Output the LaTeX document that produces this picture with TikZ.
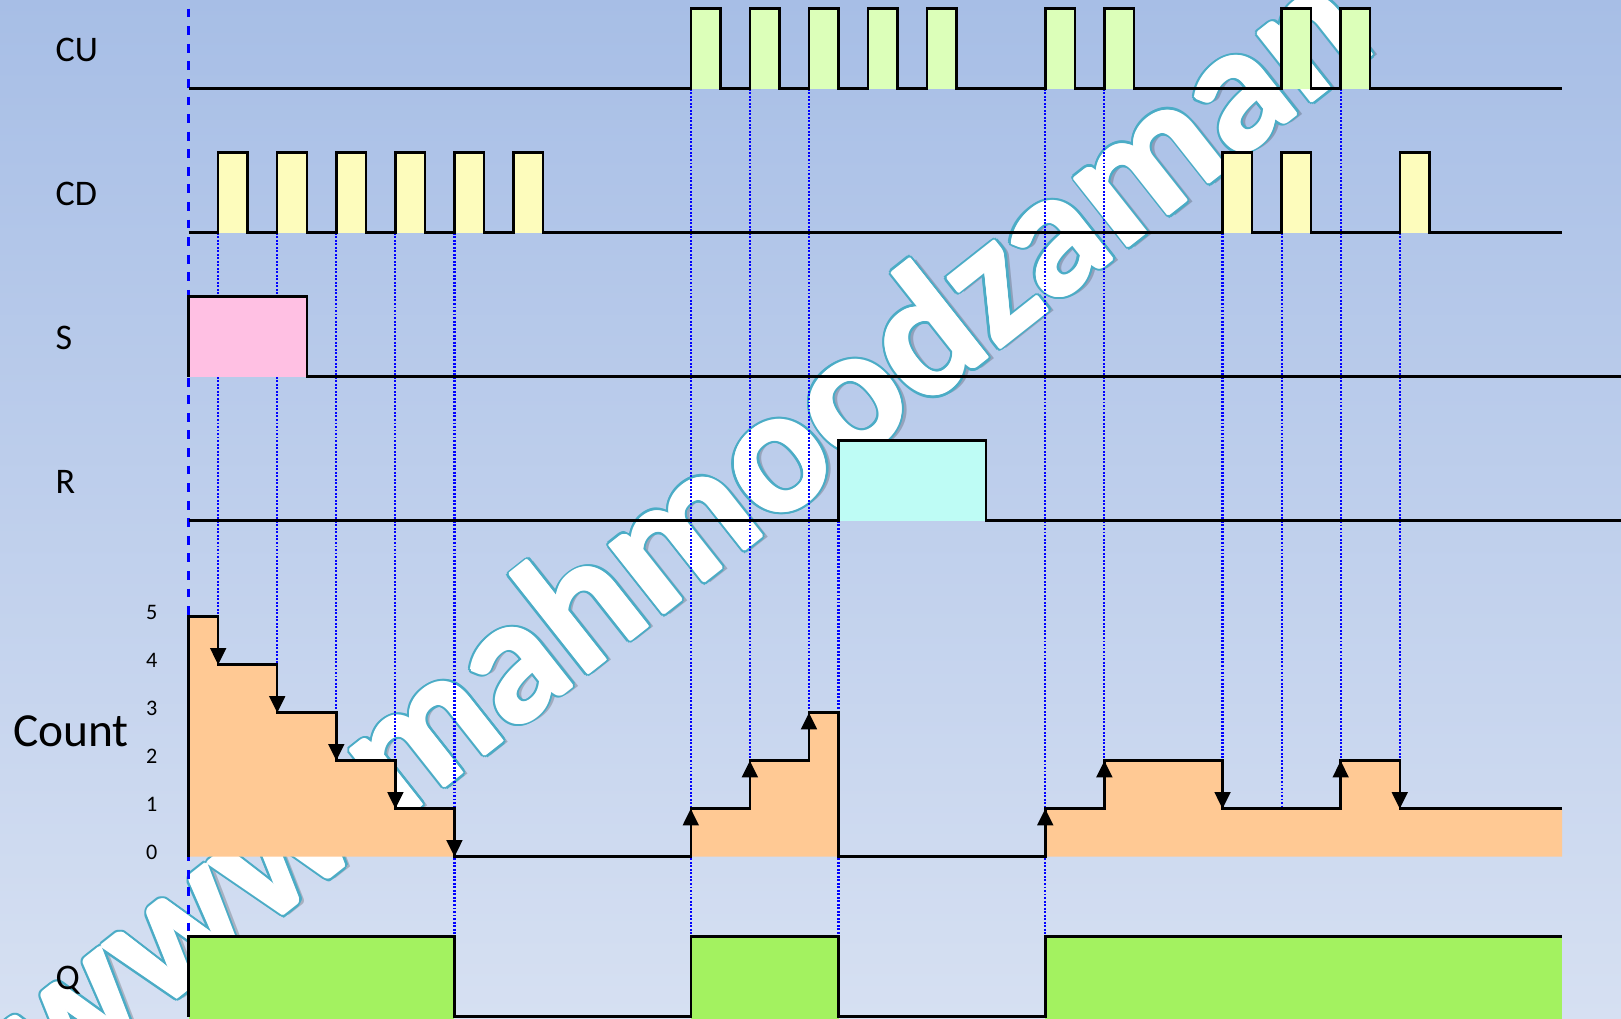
\documentclass[tikz,border=0pt]{standalone}
\usepackage{fontspec}
\setmainfont{Carlito}
\usetikzlibrary{arrows.meta}

\definecolor{bgtop}{RGB}{167,190,230}
\definecolor{bgbot}{RGB}{214,224,242}
\definecolor{cufill}{RGB}{220,255,185}
\definecolor{cdfill}{RGB}{253,252,188}
\definecolor{sfill}{RGB}{255,192,227}
\definecolor{rfill}{RGB}{190,252,245}
\definecolor{cntfill}{RGB}{255,201,148}
\definecolor{qfill}{RGB}{163,242,96}
\definecolor{wmedge}{RGB}{75,172,198}

% base line, fill colour, rising edges (pulse width 1)
\newcommand{\pulsetrain}[3]{%
  \foreach \t in {#3} \fill[#2] (\t,#1) rectangle ++(1,1);
  \draw[wave] (0,#1) \foreach \t in {#3} { -- (\t,#1) -- ++(0,1) -- ++(1,0) -- ++(0,-1) } -- (46.5,#1);
}

\begin{document}
\begin{tikzpicture}[x=0.5908cm,y=1.6cm,
  wave/.style={line width=1.4pt,line join=miter},
  guide/.style={blue,line width=1.2pt,dash pattern=on 1.1pt off 0.9pt},
  zero/.style={blue,line width=1.3pt,dash pattern=on 5pt off 5pt},
  sig/.style={anchor=base west,inner sep=0,font=\fontsize{20.5}{20.5}\selectfont},
  tick/.style={anchor=base,inner sep=0,font=\fontsize{12.6}{12.6}\selectfont},
  wm/.style={anchor=base west,inner sep=0,rotate=38.3,font=\fontsize{102}{102}\selectfont\bfseries},
  >={Triangle[length=9.5pt,width=9pt]}]

\useasboundingbox (-6.385,-0.016) rectangle (48.49,12.709);
\fill[top color=bgtop,bottom color=bgbot] (-6.385,-0.016) rectangle (48.49,12.709);

% watermark
\coordinate (wmstart) at (-4.69,-1.02);
\node[wm,text=black,opacity=0.2,shift={(2.5pt,-2.5pt)}] (wmshadow) at (wmstart) {www.mahmoodzaman};
\foreach \a in {0,30,...,330}
  \node[wm,text=wmedge,shift={(\a:2.1pt)}] (wmedge\a) at (wmstart) {www.mahmoodzaman};
\foreach \a in {0,45,...,315}
  \node[wm,text=white,shift={(\a:0.8pt)}] (wmfat\a) at (wmstart) {www.mahmoodzaman};
\node[wm,text=white] (wmark) at (wmstart) {www.mahmoodzaman};

% guide lines
\draw[zero] (0,12.6) -- (0,1);
\foreach \t/\a/\b in {1/9.8/5, 3/9.8/4.4, 5/9.8/3.8, 7/9.8/3.2, 9/9.8/1,
    17/11.6/1, 19/11.6/3.2, 21/11.6/3.8, 22/6.2/1, 29/11.6/1, 31/11.6/3.2,
    35/9.8/3.2, 37/9.8/2.6, 39/11.6/3.2, 41/9.8/3.2}
  \draw[guide] (\t,\a) -- (\t,\b);

% CU, CD
\pulsetrain{11.6}{cufill}{17,19,21,23,25,29,31,37,39}
\pulsetrain{9.8}{cdfill}{1,3,5,7,9,11,35,37,41}

% S, R
\fill[sfill] (0,8) rectangle (4,9);
\draw[wave] (0,8) |- (4,9) |- (48.6,8);
\fill[rfill] (22,6.2) rectangle (27,7.2);
\draw[wave] (0,6.2) -| (22,7.2) -| (27,6.2) -- (48.6,6.2);

% Count
\fill[cntfill] (0,2) -- (0,5) -| (1,4.4) -| (3,3.8) -| (5,3.2) -| (7,2.6) -| (9,2) -- cycle;
\fill[cntfill] (17,2) -- (17,2.6) -| (19,3.2) -| (21,3.8) -| (22,2) -- cycle;
\fill[cntfill] (29,2) -- (29,2.6) -| (31,3.2) -| (35,2.6) -| (39,3.2) -| (41,2.6) -- (46.5,2.6) -- (46.5,2) -- cycle;
\draw[wave] (0,2) -- (0,5) -| (1,4.4) -| (3,3.8) -| (5,3.2) -| (7,2.6) -| (9,2)
  -- (17,2) -- (17,2.6) -| (19,3.2) -| (21,3.8) -| (22,2)
  -- (29,2) -- (29,2.6) -| (31,3.2) -| (35,2.6) -| (39,3.2) -| (41,2.6) -- (46.5,2.6);
\foreach \t/\a/\b in {1/5/4.4, 3/4.4/3.8, 5/3.8/3.2, 7/3.2/2.6, 9/2.6/2,
    17/2/2.6, 19/2.6/3.2, 21/3.2/3.8, 29/2/2.6, 31/2.6/3.2, 35/3.2/2.6, 39/2.6/3.2, 41/3.2/2.6}
  \draw[wave,->] (\t,\a) -- (\t,\b);

% Q
\fill[qfill] (0,-0.1) rectangle (9,1);
\fill[qfill] (17,-0.1) rectangle (22,1);
\fill[qfill] (29,-0.1) rectangle (46.5,1);
\draw[wave] (0,0) |- (9,1) |- (17,0) |- (22,1) |- (29,0) |- (46.5,1);

% labels
\node[sig] (cu) at (-4.51,11.945) {CU};
\node[sig] (cd) at (-4.51,10.145) {CD};
\node[sig] (s) at (-4.51,8.345) {S};
\node[sig] (r) at (-4.51,6.545) {R};
\node[sig] (q) at (-4.51,0.345) {Q};
\node[sig,font=\fontsize{27}{27}\selectfont] (count) at (-5.95,3.375) {Count};
\foreach \n in {0,...,5}
  \node[tick] (lvl\n) at (-1.25,{2+0.6*\n-0.03}) {\n};
\end{tikzpicture}
\end{document}
